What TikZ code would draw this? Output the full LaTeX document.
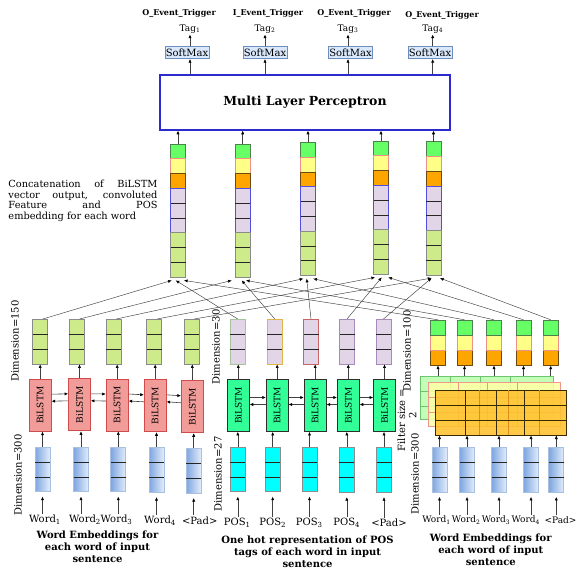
\documentclass[tikz,border=0pt]{standalone}
\usepackage{fontspec}
\setmainfont{DejaVu Serif}
\usetikzlibrary{arrows.meta,calc}
\definecolor{smfill}{HTML}{DAE8FC}
\definecolor{smdraw}{HTML}{6C8EBF}
\definecolor{mlpblue}{HTML}{2B2BD0}
\definecolor{cgreen}{HTML}{66FF66}
\definecolor{cgreenD}{HTML}{4F7F4F}
\definecolor{cyellow}{HTML}{FFFF88}
\definecolor{cyellowD}{HTML}{F0908A}
\definecolor{corange}{HTML}{FFA500}
\definecolor{corangeD}{HTML}{6B4A10}
\definecolor{clav}{HTML}{E1D5E7}
\definecolor{clavD}{HTML}{5050E0}
\definecolor{clg}{HTML}{CDEB8B}
\definecolor{clgD}{HTML}{8A8A8A}
\definecolor{bred}{HTML}{F19C99}
\definecolor{bredD}{HTML}{D04C4C}
\definecolor{bgreen}{HTML}{33FF99}
\definecolor{bgreenD}{HTML}{2E2E2E}
\definecolor{cyanF}{HTML}{00FFFF}
\definecolor{cyanD}{HTML}{8C8C8C}
\definecolor{embL}{HTML}{7EA6E0}
\definecolor{embR}{HTML}{E3EDFB}
\definecolor{embD}{HTML}{A9C0E0}
\definecolor{cnnG}{HTML}{C4FFB8}
\definecolor{cnnGD}{HTML}{6CC46C}
\definecolor{cnnY}{HTML}{FFFFA6}
\definecolor{cnnYD}{HTML}{F0968C}
\definecolor{cnnO}{HTML}{FFC12E}
\definecolor{cnnOD}{HTML}{3A2A00}
\definecolor{cnnOL}{HTML}{D8901A}
\definecolor{lavG}{HTML}{A8C49A}
\definecolor{lavO}{HTML}{E0B44A}
\definecolor{lavR}{HTML}{C86464}
\definecolor{lavP}{HTML}{A58CB8}
\definecolor{linecol}{HTML}{404040}
\tikzset{
  arr/.style={draw=linecol, line width=0.6pt, -{Latex[length=3.6pt,width=3.2pt,color=black]}},
  xarr/.style={draw=linecol, line width=0.45pt, -{Latex[length=3.6pt,width=3.2pt,color=black]}},
  divline/.style={draw=black!85, line width=0.6pt},
  lab/.style={font=\fontsize{10}{12}\selectfont, inner sep=1pt},
  smalllab/.style={font=\fontsize{9}{11}\selectfont, inner sep=1pt},
  taglab/.style={font=\fontsize{9}{11}\selectfont, inner sep=1pt},
  captxt/.style={font=\bfseries\fontsize{10}{12}\selectfont, align=center, inner sep=0},
  dimtxt/.style={font=\fontsize{10}{12}\selectfont, rotate=90, inner sep=0},
  smbox/.style={draw=smdraw, fill=smfill, line width=0.6pt, minimum width=44pt, minimum height=12pt, inner sep=0, font=\fontsize{10}{12}\selectfont},
  mlpbox/.style={draw=mlpblue, line width=1.3pt, minimum width=290pt, minimum height=55pt, font=\bfseries\fontsize{12.5}{15}\selectfont},
  toplab/.style={font=\bfseries\fontsize{8}{10}\selectfont, inner sep=0},
  bil/.style={minimum width=22pt, minimum height=52pt, inner sep=0, line width=0.7pt, font=\fontsize{9}{10}\selectfont},
  bilr/.style={bil, draw=bredD, fill=bred},
  bilg/.style={bil, draw=bgreenD, fill=bgreen},
  cell/.style={minimum width=15pt, minimum height=44.7pt, inner sep=0, line width=0.7pt},
  lgbox/.style={cell, draw=clgD, fill=clg},
  lavbox/.style={cell, fill=clav, draw=#1},
  embbox/.style={cell, draw=embD, left color=embL, right color=embR},
  cyanbox/.style={cell, draw=cyanD, fill=cyanF},
  layer/.style={inner sep=0, line width=0.8pt}
}
\newcommand{\tribox}[4]{%
  \node[#4] (#1) at (#2,#3+22.35) {};
  \draw[divline] (#2-7.5,#3+14.9) -- (#2+7.5,#3+14.9) (#2-7.5,#3+29.8) -- (#2+7.5,#3+29.8);}
\newcommand{\concatcol}[3]{%
  \node[inner sep=0, minimum width=15pt, minimum height=133.2pt] (#1) at (#2,#3+66.6) {};
  \begin{scope}[shift={(#2,#3)}, line width=0.7pt]
    \draw[fill=cgreen, draw=cgreenD] (-7.5,0) rectangle (7.5,14.8);
    \draw[fill=cyellow, draw=cyellowD] (-7.5,14.8) rectangle (7.5,29.6);
    \draw[fill=corange, draw=corangeD] (-7.5,29.6) rectangle (7.5,44.4);
    \draw[fill=clav, draw=clavD] (-7.5,44.4) rectangle (7.5,88.8);
    \draw[divline] (-7.5,59.2) -- (7.5,59.2) (-7.5,74) -- (7.5,74);
    \draw[fill=clg, draw=clgD] (-7.5,88.8) rectangle (7.5,133.2);
    \draw[divline] (-7.5,103.6) -- (7.5,103.6) (-7.5,118.4) -- (7.5,118.4);
  \end{scope}}
\newcommand{\rgbbox}[3]{%
  \node[inner sep=0, minimum width=15pt, minimum height=45.3pt] (#1) at (#2,#3+22.65) {};
  \begin{scope}[shift={(#2,#3)}, line width=0.7pt]
    \draw[fill=corange, draw=corangeD] (-7.5,30) rectangle (7.5,45.3);
    \draw[fill=cyellow, draw=cyellowD] (-7.5,15) rectangle (7.5,30);
    \draw[fill=cgreen, draw=cgreenD] (-7.5,0) rectangle (7.5,15);
  \end{scope}}
\begin{document}
\begin{tikzpicture}[x=1pt,y=-1pt]
\useasboundingbox[fill=white] (0,0) rectangle (581,574);

% ---------- top ----------
\node[toplab] (o1) at (179,13) {O\_Event\_Trigger};
\node[toplab] (o2) at (268,13) {I\_Event\_Trigger};
\node[toplab] (o3) at (354,13) {O\_Event\_Trigger};
\node[toplab] (o4) at (442,15) {O\_Event\_Trigger};

\node[taglab] (t1) at (190,29) {Tag\textsubscript{1}};
\node[taglab] (t2) at (265,29) {Tag\textsubscript{2}};
\node[taglab] (t3) at (348,29) {Tag\textsubscript{3}};
\node[taglab] (t4) at (432.7,29) {Tag\textsubscript{4}};

\node[smbox] (sm1) at (187,52.7) {SoftMax};
\node[smbox] (sm2) at (265,52.7) {SoftMax};
\node[smbox] (sm3) at (350.5,52.7) {SoftMax};
\node[smbox] (sm4) at (430,52.7) {SoftMax};

\node[mlpbox] (mlp) at (305,102.5) {Multi Layer Perceptron};

\foreach \i in {1,...,4} {
  \draw[arr] (t\i.south |- sm\i.north) -- (t\i.south);
  \draw[arr] (t\i.south |- mlp.north) -- (t\i.south |- sm\i.south);
}

% ---------- concatenation columns ----------
\concatcol{c1}{178}{144}
\concatcol{c2}{242.7}{144}
\concatcol{c3}{308}{142.3}
\concatcol{c4}{381}{141}
\concatcol{c5}{433.5}{141.7}
\foreach \i in {1,...,5} {\draw[arr] (c\i.north) -- (c\i.north |- mlp.south);}

\node[anchor=west, inner sep=0, font=\fontsize{9.8}{10.6}\selectfont, align=left] (ctxt) at (8.3,200.8)
 {\makebox[149pt][s]{Concatenation of BiLSTM}\\
  \makebox[149pt][s]{vector output, convoluted}\\
  \makebox[149pt][s]{Feature and POS}\\
  embedding for each word};

% ---------- group 1 ----------
\tribox{a1}{40}{319.3}{lgbox}
\tribox{a2}{76.8}{319.3}{lgbox}
\tribox{a3}{113.5}{319.3}{lgbox}
\tribox{a4}{154.3}{319.3}{lgbox}
\tribox{a5}{191.5}{319.3}{lgbox}

\node[bilr] (r1) at (40.2,405.2) {\rotatebox{90}{BiLSTM}};
\node[bilr] (r2) at (79.5,404.8) {\rotatebox{90}{BiLSTM}};
\node[bilr] (r3) at (117.2,405) {\rotatebox{90}{BiLSTM}};
\node[bilr] (r4) at (155.2,405.8) {\rotatebox{90}{BiLSTM}};
\node[bilr] (r5) at (192.3,406.8) {\rotatebox{90}{BiLSTM}};

\tribox{e1}{42.5}{447}{embbox}
\tribox{e2}{81}{447}{embbox}
\tribox{e3}{118.3}{447}{embbox}
\tribox{e4}{156.5}{447.5}{embbox}
\tribox{e5}{193.7}{448.5}{embbox}

\node[lab] (w1) at (45,520) {Word\textsubscript{1}};
\node[lab] (w2) at (85,520) {Word\textsubscript{2}};
\node[lab] (w3) at (116.5,520) {Word\textsubscript{3}};
\node[lab] (w4) at (160,520.5) {Word\textsubscript{4}};
\node[lab] (w5) at (199.7,520.5) {<Pad>};

\foreach \i in {1,...,5} {
  \draw[arr] (r\i.north) -- (r\i.north |- a\i.south);
  \draw[arr] (e\i.north) -- (e\i.north |- r\i.south);
  \draw[arr, shorten >=4.5pt] (e\i.south |- w\i.north) -- (e\i.south);
}
\foreach \i/\j in {1/2,2/3,3/4,4/5} {
  \draw[arr] ([yshift=11pt]r\i.east) -- ([yshift=11pt]r\j.west);
  \draw[arr] ([yshift=4pt]r\j.west) -- ([yshift=4pt]r\i.east);
}

\node[captxt] (cap1) at (97.5,547) {Word Embeddings for\\each word of input\\sentence};

% ---------- group 2 ----------
\tribox{b1}{237.7}{319.3}{lavbox=lavG}
\tribox{b2}{274.8}{319.3}{lavbox=lavO}
\tribox{b3}{311}{319.3}{lavbox=lavR}
\tribox{b4}{347}{319.3}{lavbox=lavP}
\tribox{b5}{383.5}{319.3}{lavbox=lavP}

\node[bilg] (g1) at (238.3,405.5) {\rotatebox{90}{BiLSTM}};
\node[bilg] (g2) at (277.2,405.5) {\rotatebox{90}{BiLSTM}};
\node[bilg] (g3) at (315.2,405.5) {\rotatebox{90}{BiLSTM}};
\node[bilg] (g4) at (348.3,405.5) {\rotatebox{90}{BiLSTM}};
\node[bilg] (g5) at (384.5,405.5) {\rotatebox{90}{BiLSTM}};

\tribox{p1}{237.8}{447}{cyanbox}
\tribox{p2}{272.7}{447}{cyanbox}
\tribox{p3}{309.5}{447}{cyanbox}
\tribox{p4}{346.8}{447.5}{cyanbox}
\tribox{p5}{384}{447.5}{cyanbox}

\node[lab] (q1) at (237.3,523) {POS\textsubscript{1}};
\node[lab] (q2) at (272.7,523) {POS\textsubscript{2}};
\node[lab] (q3) at (309.3,523) {POS\textsubscript{3}};
\node[lab] (q4) at (346.7,523) {POS\textsubscript{4}};
\node[lab] (q5) at (389,523) {<Pad>};

\foreach \i in {1,...,5} {
  \draw[arr] (g\i.north) -- (g\i.north |- b\i.south);
  \draw[arr] (p\i.north) -- (p\i.north |- g\i.south);
  \draw[arr, shorten >=4.5pt] (p\i.south |- q\i.north) -- (p\i.south);
}
\foreach \i/\j in {1/2,2/3,3/4,4/5} {
  \draw[arr] ([yshift=8pt]g\i.east) -- ([yshift=8pt]g\j.west);
  \draw[arr] ([yshift=1pt]g\j.west) -- ([yshift=1pt]g\i.east);
}

\node[captxt] (cap2) at (307.5,552) {One hot representation of POS\\tags of each word in input\\sentence};

% ---------- group 3 ----------
\rgbbox{k1}{438}{320}
\rgbbox{k2}{464.5}{320}
\rgbbox{k3}{494}{320}
\rgbbox{k4}{523.5}{320}
\rgbbox{k5}{550.7}{320}

\node[layer, draw=cnnGD, fill=cnnG, minimum width=132.3pt, minimum height=43.3pt] (cnnGr) at (486.85,397.65) {};
\draw[draw=cnnGD, line width=0.6pt] (450.7,376) -- (450.7,419.3) (480,376) -- (480,419.3) (510,376) -- (510,419.3)
   (420.7,391.7) -- (553,391.7) (420.7,406) -- (553,406);
\node[layer, draw=cnnYD, fill=cnnY, fill opacity=0.85, minimum width=132pt, minimum height=44pt] (cnnYe) at (494,404.7) {};
\draw[draw=cnnYD, line width=0.6pt] (458,382.7) -- (458,426.7) (487,382.7) -- (487,426.7) (517,382.7) -- (517,426.7)
   (428,397.7) -- (560,397.7) (428,412) -- (560,412);
\node[layer, draw=cnnOD, fill=cnnO, fill opacity=0.88, minimum width=131pt, minimum height=45pt] (cnnOr) at (501.2,412.5) {};
\draw[draw=cnnOL, line width=0.6pt] (479,390) -- (479,435) (508.3,390) -- (508.3,435) (539.3,390) -- (539.3,435);
\draw[draw=cnnOD, line width=0.9pt] (465.7,390) -- (465.7,435) (496,390) -- (496,435) (524.3,390) -- (524.3,435)
   (435.7,405.5) -- (566.7,405.5) (435.7,420.5) -- (566.7,420.5);

\tribox{f1}{439.5}{447.3}{embbox}
\tribox{f2}{467}{447.3}{embbox}
\tribox{f3}{499}{447.3}{embbox}
\tribox{f4}{531}{447.3}{embbox}
\tribox{f5}{556.3}{447.3}{embbox}

\node[smalllab] (v1) at (436.5,520) {Word\textsubscript{1}};
\node[smalllab] (v2) at (466.2,520) {Word\textsubscript{2}};
\node[smalllab] (v3) at (496,520) {Word\textsubscript{3}};
\node[smalllab] (v4) at (525.8,520) {Word\textsubscript{4}};
\node[smalllab] (v5) at (560.5,520) {<Pad>};

\foreach \i in {1,...,5} {
  \draw[arr] (k\i.south |- cnnGr.north) -- (k\i.south);
  \draw[arr] (f\i.north) -- (f\i.north |- cnnOr.south);
  \draw[arr, shorten >=4.5pt] (f\i.south |- v\i.north) -- (f\i.south);
}

\node[captxt] (cap3) at (490.8,550) {Word Embeddings for\\each word of input\\sentence};

% ---------- dimension labels ----------
\node[dimtxt] (d1) at (15,341) {Dimension=150};
\node[dimtxt] (d2) at (18,475) {Dimension=300};
\node[dimtxt] (d3) at (216,347) {Dimension=30};
\node[dimtxt] (d4) at (218,474) {Dimension=27};
\node[dimtxt] (d5) at (407,351) {Dimension=100};
\node[dimtxt] (d6) at (401.5,420) {Filter size =};
\node[dimtxt] (d6b) at (412.7,415) {2};
\node[dimtxt] (d7) at (415,474) {Dimension=300};

% ---------- crossing connectors ----------
\foreach \i/\oa/\ob/\oc in {1/-6.3/-2.3/6, 2/-11/-1/3.3, 3/-4.7/-1.3/5.3, 4/-6/0.7/7.3, 5/-2/-2/6.5} {
  \draw[xarr] ([xshift=3]a\i.north) -- ([xshift=\oa,yshift=-3]c\i.south);
  \draw[xarr] (b\i.north) -- ([xshift=\ob,yshift=-3]c\i.south);
  \draw[xarr] (k\i.north) -- ([xshift=\oc,yshift=-3]c\i.south);
}
\end{tikzpicture}
\end{document}
